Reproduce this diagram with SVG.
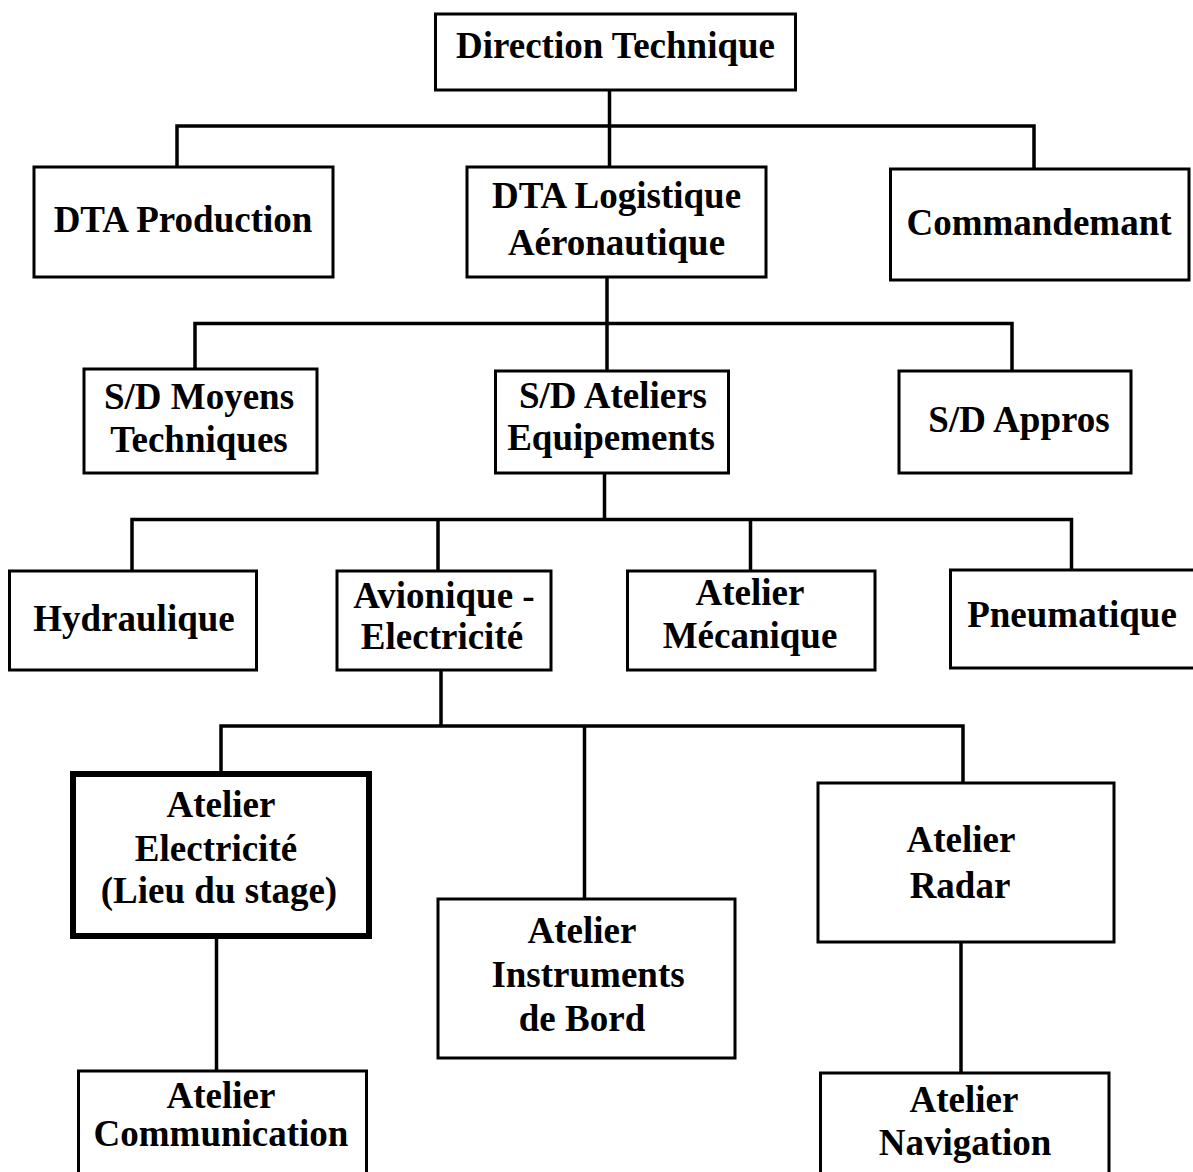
<svg xmlns="http://www.w3.org/2000/svg" width="1193" height="1172" viewBox="0 0 1193 1172">
<style>
.box{fill:#fff;stroke:#000;stroke-width:3}
.thick{fill:#fff;stroke:#000;stroke-width:6}
.lbl{font-family:"Liberation Serif","Times New Roman",serif;font-weight:bold;font-size:37px;fill:#000;text-anchor:middle}
.conn{fill:none;stroke:#000;stroke-width:3.5;stroke-linecap:square}
</style>
<rect width="1193" height="1172" fill="#fff"/>
<g id="connectors" class="conn">
<path d="M609.5 90V126M177 167V126H1034V169M609.5 126V167"/>
<path d="M607 277V323.5M195 369V323.5H1012V371M607 323.5V371"/>
<path d="M604.5 473V519.5M132 571V519.5H1071.5V570M438 519.5V571M750.5 519.5V571"/>
<path d="M441 670V726M221 771V726H963V783M584.5 726V899"/>
<path d="M216.5 939V1071"/>
<path d="M961 942V1073"/>
</g>
<g id="n-direction"><rect class="box" x="435.5" y="14" width="360" height="76"/><text class="lbl" x="615.5" y="58">Direction Technique</text></g>
<g id="n-production"><rect class="box" x="34" y="167" width="299" height="110"/><text class="lbl" x="183" y="232">DTA Production</text></g>
<g id="n-logistique"><rect class="box" x="467" y="167" width="299" height="110"/><text class="lbl" x="616.5" y="208">DTA Logistique</text><text class="lbl" x="616.5" y="255">Aéronautique</text></g>
<g id="n-commandemant"><rect class="box" x="890.5" y="169" width="298.5" height="111"/><text class="lbl" x="1039" y="235">Commandemant</text></g>
<g id="n-moyens"><rect class="box" x="84" y="369" width="233" height="104"/><text class="lbl" x="199" y="409">S/D Moyens</text><text class="lbl" x="199" y="452">Techniques</text></g>
<g id="n-ateliers"><rect class="box" x="495.5" y="371" width="233" height="102"/><text class="lbl" x="613" y="408">S/D Ateliers</text><text class="lbl" x="611" y="450">Equipements</text></g>
<g id="n-appros"><rect class="box" x="899" y="371" width="232" height="102"/><text class="lbl" x="1019" y="432">S/D Appros</text></g>
<g id="n-hydraulique"><rect class="box" x="9.5" y="571" width="247" height="99"/><text class="lbl" x="134" y="631">Hydraulique</text></g>
<g id="n-avionique"><rect class="box" x="337" y="571" width="214" height="99"/><text class="lbl" x="444" y="608">Avionique -</text><text class="lbl" x="442" y="649">Electricité</text></g>
<g id="n-mecanique"><rect class="box" x="627.5" y="571" width="247.5" height="99"/><text class="lbl" x="750" y="605">Atelier</text><text class="lbl" x="750" y="648">Mécanique</text></g>
<g id="n-pneumatique"><rect class="box" x="950.5" y="570" width="260" height="98"/><text class="lbl" x="1072" y="627">Pneumatique</text></g>
<g id="n-electricite"><rect class="thick" x="73" y="774" width="296" height="162"/><text class="lbl" x="221" y="817">Atelier</text><text class="lbl" x="216" y="861">Electricité</text><text class="lbl" x="219" y="903">(Lieu du stage)</text></g>
<g id="n-instruments"><rect class="box" x="438" y="899" width="297" height="159"/><text class="lbl" x="582" y="943">Atelier</text><text class="lbl" x="588" y="987">Instruments</text><text class="lbl" x="582" y="1031">de Bord</text></g>
<g id="n-radar"><rect class="box" x="818" y="783" width="296" height="159"/><text class="lbl" x="961" y="852">Atelier</text><text class="lbl" x="960" y="898">Radar</text></g>
<g id="n-communication"><rect class="box" x="78.5" y="1071" width="288" height="125"/><text class="lbl" x="221" y="1108">Atelier</text><text class="lbl" x="221" y="1146">Communication</text></g>
<g id="n-navigation"><rect class="box" x="820.5" y="1073" width="288.5" height="125"/><text class="lbl" x="964" y="1112">Atelier</text><text class="lbl" x="965" y="1155">Navigation</text></g>
</svg>
